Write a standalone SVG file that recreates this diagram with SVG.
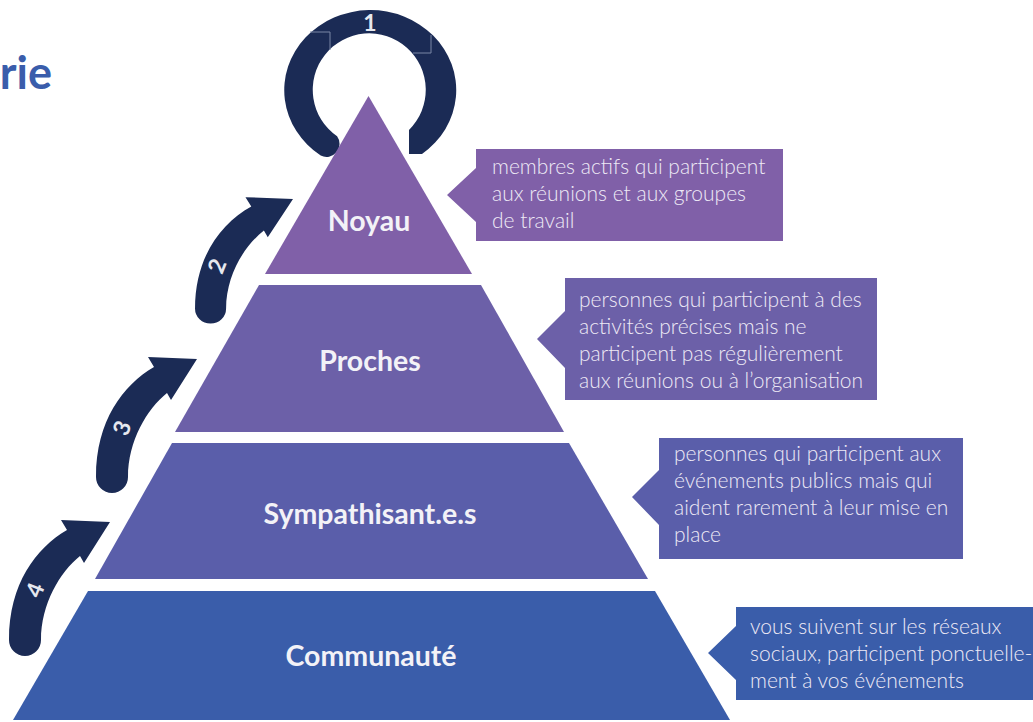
<svg xmlns="http://www.w3.org/2000/svg" width="1033" height="722" viewBox="0 0 1033 722">
<style>
.navy{fill:#1b2b55}
.lbl{font-family:Lato,"Open Sans",sans-serif;font-weight:700;font-size:28.5px;fill:#f3f2f7;text-anchor:middle}
.txt{font-family:Lato,"Open Sans",sans-serif;font-weight:300;font-size:21px;fill:#eeeaf6}
.num{font-family:Lato,"Open Sans",sans-serif;font-weight:700;font-size:23px;fill:#e6e8ef;text-anchor:middle}
.c1{fill:#8060a8}.c2{fill:#6c60a8}.c3{fill:#5a5eaa}.c4{fill:#3a5daa}
.thin{fill:none;stroke:#7a87a6;stroke-width:1}
</style>
<defs>
<path id="arr" d="M0,0 L-49,-2 L-43,8 C-74,26 -101,62 -101,118 A16,16 0 0 0 -69,118 C-69,82 -50,50 -30,34 L-26,41 Z"/>
</defs>
<rect width="1033" height="722" fill="#ffffff"/>
<text x="52" y="89" style="font-family:Lato,'Open Sans',sans-serif;font-weight:700;font-size:45px;fill:#3a5dab" text-anchor="end">rie</text>

<g id="connectors">
<g id="ring1">
<path class="navy" d="M409,130 L409,154 L422,154 A86,80 0 1 0 320.7,155.5 A13,13 0 0 0 337.1,136.3 A56.5,56.5 0 1 1 409,130 Z"/>
<path class="thin" d="M310,32 H330 V50"/>
<path class="thin" d="M431,35 V53 H413"/>
<text class="num" x="370" y="31" font-size="26">1</text>
</g>
<g id="arrow2">
<use href="#arr" class="navy" transform="translate(293,199) scale(0.97,0.93)"/>
<text class="num" transform="translate(217,266) rotate(-68)" y="8">2</text>
</g>
<g id="arrow3">
<use href="#arr" class="navy" transform="translate(197,359)"/>
<text class="num" transform="translate(122,428) rotate(-68)" y="8">3</text>
</g>
<g id="arrow4">
<use href="#arr" class="navy" transform="translate(110,522)"/>
<text class="num" transform="translate(35,590) rotate(-68)" y="8">4</text>
</g>
</g>

<g id="noyau">
<polygon class="c1" points="368.5,96 472,274 265,274"/>
<text class="lbl" x="369" y="231">Noyau</text>
</g>
<g id="proches">
<polygon class="c2" points="259,285 481,285 564,432 175,432"/>
<text class="lbl" x="370" y="371">Proches</text>
</g>
<g id="sympathisants">
<polygon class="c3" points="172,443 569,443 648,579 95,579"/>
<text class="lbl" x="370" y="524">Sympathisant.e.s</text>
</g>
<g id="communaute">
<polygon class="c4" points="88,591 655,591 730,720 13,720"/>
<text class="lbl" x="371" y="666">Communauté</text>
</g>

<g id="callout-noyau">
<path class="c1" d="M476,149 H783 V241 H476 V222 L447,195 L476,168 Z"/>
<text class="txt" x="492" y="174">membres actifs qui participent</text>
<text class="txt" x="492" y="201">aux réunions et aux groupes</text>
<text class="txt" x="492" y="228">de travail</text>
</g>
<g id="callout-proches">
<path class="c2" d="M565,278 H877 V400 H565 V368 L537,339 L565,311 Z"/>
<text class="txt" x="579" y="307">personnes qui participent à des</text>
<text class="txt" x="579" y="334">activités précises mais ne</text>
<text class="txt" x="579" y="361">participent pas régulièrement</text>
<text class="txt" x="579" y="388">aux réunions ou à l’organisation</text>
</g>
<g id="callout-sympathisants">
<path class="c3" d="M659,438 H963 V559 H659 V525 L632,497 L659,470 Z"/>
<text class="txt" x="674" y="461">personnes qui participent aux</text>
<text class="txt" x="674" y="488">événements publics mais qui</text>
<text class="txt" x="674" y="515">aident rarement à leur mise en</text>
<text class="txt" x="674" y="542">place</text>
</g>
<g id="callout-communaute">
<path class="c4" d="M736,607 H1033 V700 H736 V680 L708,653 L736,626 Z"/>
<text class="txt" x="750" y="634">vous suivent sur les réseaux</text>
<text class="txt" x="750" y="661">sociaux, participent ponctuelle-</text>
<text class="txt" x="750" y="688">ment à vos événements</text>
</g>
</svg>
